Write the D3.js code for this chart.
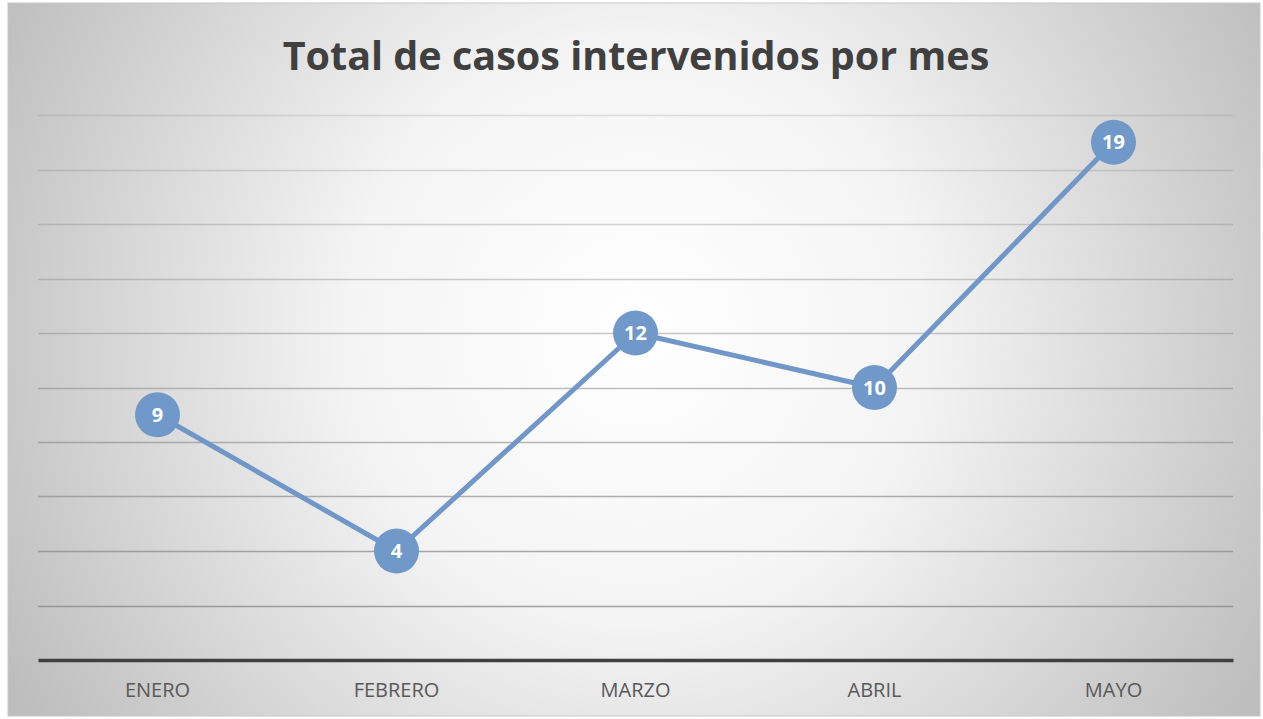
<!DOCTYPE html>
<html><head><meta charset="utf-8">
<script src="https://cdn.jsdelivr.net/npm/d3@7"></script>
<style>html,body{margin:0;padding:0;background:#fff;overflow:hidden}</style>
</head><body>
<svg id="c" width="1263" height="719"></svg>
<script>
const months = ["ENERO","FEBRERO","MARZO","ABRIL","MAYO"];
const casos = [9,4,12,10,19];
const yTicks = [0,2,4,6,8,10,12,14,16,18,20];
const title = "Total de casos intervenidos por mes";

const svg = d3.select("#c");
const defs = svg.append("defs");
const rg = defs.append("radialGradient").attr("id","bg")
  .attr("gradientUnits","userSpaceOnUse").attr("cx",636).attr("cy",330).attr("r",720);
rg.append("stop").attr("offset","0").attr("stop-color","#ffffff");
rg.append("stop").attr("offset","0.4").attr("stop-color","#f4f4f4");
rg.append("stop").attr("offset","1").attr("stop-color","#bdbdbd");
svg.append("rect").attr("x",8).attr("y",3).attr("width",1252).attr("height",713)
  .attr("fill","url(#bg)").attr("stroke","#c8c8c8").attr("stroke-width",1);

const m = {l:38, r:1233, t:115, b:660};
const x = d3.scaleBand().domain(months).range([m.l,m.r]);
const y = d3.scaleLinear().domain([0,20]).range([m.b,m.t]);

// gridlines
svg.append("g").selectAll("line").data(yTicks.filter(d=>d>0)).join("line")
  .attr("x1",m.l).attr("x2",m.r)
  .attr("y1",d=>Math.round(y(d))+0.5).attr("y2",d=>Math.round(y(d))+0.5)
  .attr("stroke","#8a8a8a").attr("stroke-width",1.3)
  .attr("stroke-opacity",d=>0.25+0.6*(1-d/20));

// x axis
const xa = svg.append("g").attr("transform",`translate(0,${m.b})`)
  .call(d3.axisBottom(x).tickSize(0).tickPadding(23));
xa.select(".domain").attr("stroke","#404040").attr("stroke-width",3.5);
xa.selectAll("text").attr("font-family","'Open Sans', 'Liberation Sans', sans-serif")
  .attr("font-size",20).attr("fill","#595959");

// line
const line = d3.line().x((d,i)=>x(months[i])+x.bandwidth()/2).y(d=>y(d));
svg.append("path").datum(casos).attr("d",line).attr("fill","none")
  .attr("stroke","#7097c8").attr("stroke-width",5).attr("stroke-linejoin","round");

const pts = svg.append("g").selectAll("g").data(casos).join("g")
  .attr("transform",(d,i)=>`translate(${x(months[i])+x.bandwidth()/2},${y(d)})`);
pts.append("circle").attr("r",22.5).attr("fill","#7098c9");
pts.append("text").text(d=>d).attr("text-anchor","middle").attr("dy","0.36em")
  .attr("font-family","'Open Sans', 'Liberation Sans', sans-serif").attr("font-weight","bold")
  .attr("font-size",20).attr("fill","#ffffff");

// title
const t = svg.append("text").text(title).attr("x",636).attr("y",70).attr("text-anchor","middle")
  .attr("font-family","'Open Sans', 'Liberation Sans', sans-serif").attr("font-weight","bold")
  .attr("font-size",40).attr("fill","#404040");
const tw = t.node().getComputedTextLength();
t.attr("font-size", 40*707/tw);
</script>
</body></html>
